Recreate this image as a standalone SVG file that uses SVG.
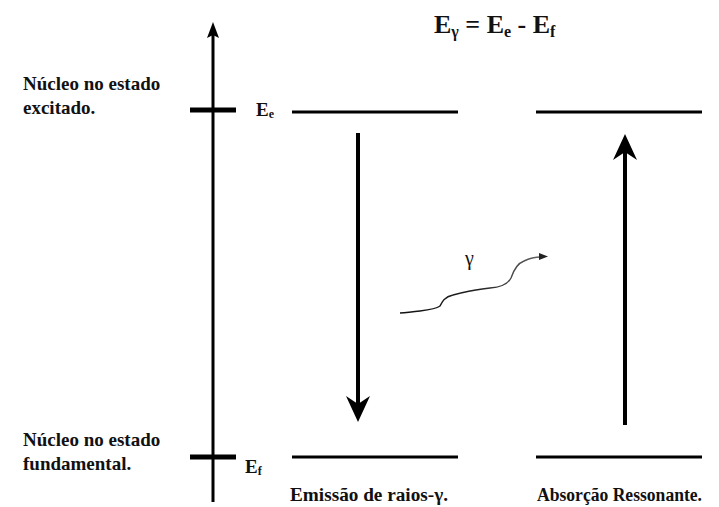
<svg xmlns="http://www.w3.org/2000/svg" width="719" height="507" viewBox="0 0 719 507">
<defs>
<style>
text{font-family:'Liberation Serif','Times New Roman','DejaVu Serif',serif;font-weight:bold;fill:#111}
.lvl{stroke:#000;stroke-width:3;fill:none}
.tick{stroke:#000;stroke-width:5}
.shaft{stroke:#000;stroke-width:4}
</style>
<linearGradient id="wg" x1="0" y1="0" x2="1" y2="0">
<stop offset="0" stop-color="#111"/>
<stop offset="0.55" stop-color="#222"/>
<stop offset="1" stop-color="#666"/>
</linearGradient>
</defs>
<rect width="719" height="507" fill="#fff"/>
<g id="axis">
<line x1="213" y1="34" x2="213" y2="502" stroke="#000" stroke-width="3"/>
<polygon points="207,38 213,22 219,38 213,35" fill="#000"/>
<line class="tick" x1="190" y1="110" x2="236" y2="110"/>
<line class="tick" x1="190" y1="457" x2="236" y2="457"/>
</g>
<g id="label-excitado">
<text x="23" y="90" font-size="19">Núcleo no estado</text>
<text x="23" y="114" font-size="19">excitado.</text>
</g>
<g id="label-fundamental">
<text x="23" y="446" font-size="19">Núcleo no estado</text>
<text x="23" y="470" font-size="19">fundamental.</text>
</g>
<g id="Ee-label"><text x="256" y="116" font-size="19">E<tspan font-size="12" dy="2">e</tspan></text></g>
<g id="Ef-label"><text x="245" y="473" font-size="19">E<tspan font-size="12" dy="2">f</tspan></text></g>
<g id="equation"><text x="434" y="33" font-size="26">E<tspan font-size="16" dy="4">γ</tspan><tspan dy="-4"> = E</tspan><tspan font-size="16" dy="4">e</tspan><tspan dy="-4"> - E</tspan><tspan font-size="16" dy="4">f</tspan></text></g>
<g id="emission">
<line class="lvl" x1="292" y1="112" x2="458" y2="112"/>
<line class="lvl" x1="292" y1="457" x2="458" y2="457"/>
<text x="290" y="501" font-size="18" textLength="158" lengthAdjust="spacingAndGlyphs">Emissão de raios-γ.</text>
</g>
<g id="absorption">
<line class="lvl" x1="536" y1="112" x2="702" y2="112"/>
<line class="lvl" x1="536" y1="457" x2="702" y2="457"/>
<text x="537" y="501" font-size="18" textLength="165" lengthAdjust="spacingAndGlyphs">Absorção Ressonante.</text>
</g>
<g id="connectors">
<line class="shaft" x1="358" y1="133" x2="358" y2="405"/>
<polygon points="346,396 358,422 370,396 358,404" fill="#000"/>
<line class="shaft" x1="625" y1="152" x2="625" y2="425"/>
<polygon points="613,160 625,134 637,160 625,152" fill="#000"/>
<path d="M400,313 C410,312 413,312 420,311 C428,310 436,309 440,306 C442,302 444,297 453,295 C460,293 465,292 470,291 C476,290 480,289 490,288 C502,287 508,284 511,278 C513,272 516,264 524,261 C530,258 534,257 541,257" fill="none" stroke="url(#wg)" stroke-width="1.4"/>
<polygon points="539,253 548,256.5 539,260" fill="#222"/>
<text x="465" y="265" font-size="20" style="font-weight:normal">γ</text>
</g>
</svg>
